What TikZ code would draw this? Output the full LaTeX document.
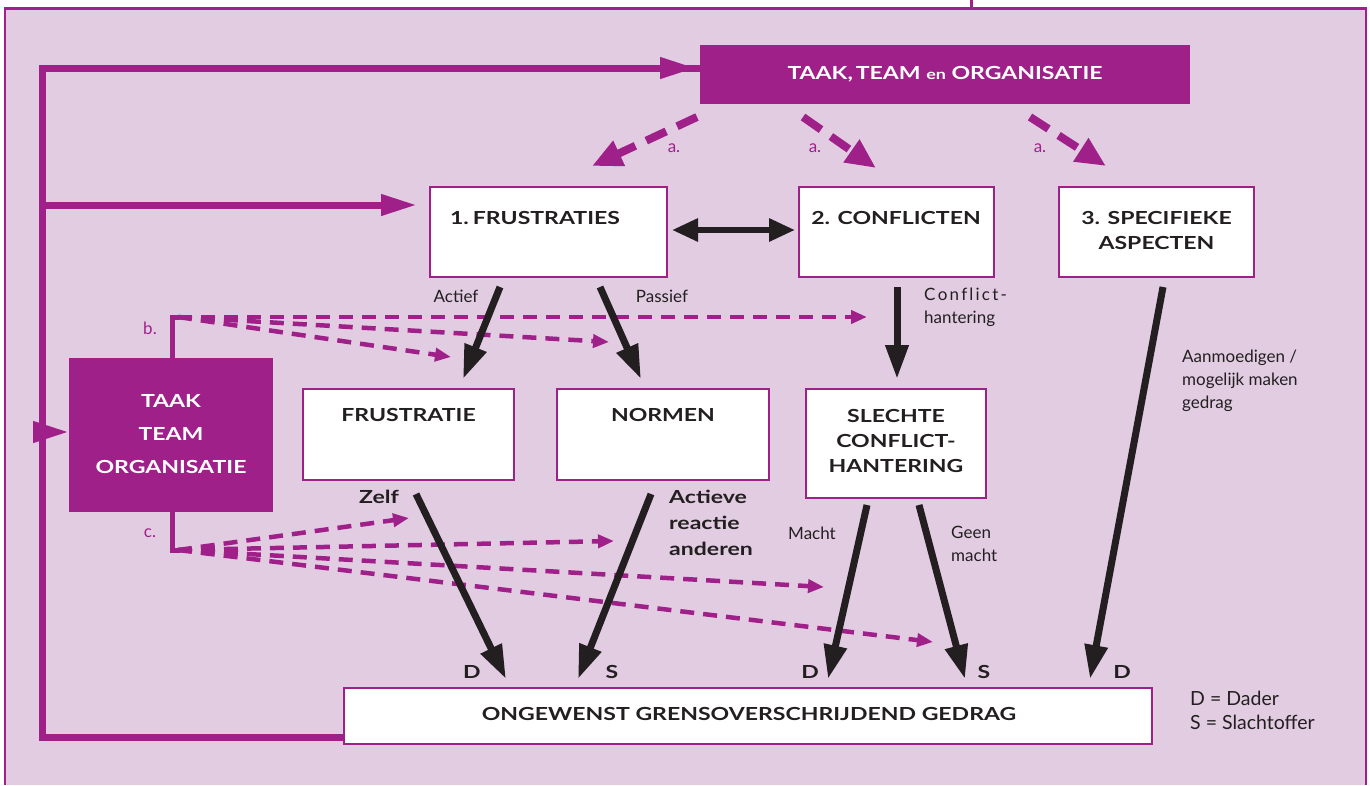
\documentclass[tikz,border=0pt]{standalone}
\usepackage{fontspec}
\setmainfont{Lato}
\newfontfamily\tfont[FakeStretch=1.28]{Lato}
\usetikzlibrary{arrows.meta,calc}
\definecolor{purp}{RGB}{160,32,138}
\definecolor{bgpink}{RGB}{226,204,226}
\definecolor{ink}{RGB}{35,31,32}
\begin{document}
\begin{tikzpicture}[x=1pt,y=-1pt,
  wbox/.style={draw=purp, line width=1.2pt, fill=white, inner sep=0pt, outer sep=0pt},
  pbox/.style={fill=purp, inner sep=0pt, outer sep=0pt},
  ttl/.style={font=\tfont\bfseries\fontsize{18}{25}\selectfont, text=ink, align=center, inner sep=0pt},
  wttl/.style={ttl, text=white},
  lbl/.style={font=\fontsize{17}{23}\selectfont, text=ink, align=left, inner sep=0pt},
  blbl/.style={font=\tfont\bfseries\fontsize{18}{26}\selectfont, text=ink, align=left, inner sep=0pt},
  plbl/.style={font=\fontsize{17}{20}\selectfont, text=purp, inner sep=0pt},
  blk/.style={draw=ink, line width=7pt, -{Triangle[length=34pt,width=22pt]}},
  dblk/.style={draw=ink, line width=6pt, {Triangle[length=26pt,width=22pt]}-{Triangle[length=26pt,width=22pt]}},
  fb/.style={draw=purp, line width=7pt, line join=miter},
  fba/.style={fb, -{Triangle[length=36pt,width=20pt]}},
  adash/.style={draw=purp, line width=8pt, dash pattern=on 22pt off 12pt, -{Triangle[length=30pt,width=26pt]}},
  tdash/.style={draw=purp, line width=4.5pt, dash pattern=on 14pt off 9pt, -{Triangle[length=16pt,width=13pt]}}
]
\useasboundingbox (0,0) rectangle (1370,785);
\fill[white] (0,0) rectangle (1370,785);
\fill[bgpink] (4,8) rectangle (1367,785);
\draw[purp, line width=2pt] (5,785) -- (5,8.5) -- (1366,8.5) -- (1366,785);
\draw[purp, line width=3pt] (4,8.5) -- (1367,8.5);
\draw[purp, line width=3pt] (971,0) -- (971,8);

% boxes
\node[pbox, minimum width=490pt, minimum height=59pt] (tto) at (945,74.5) {};
\node[wttl] (ttot) at (945,74) {TAAK,\,TEAM {\fontsize{14}{18}\selectfont en} ORGANISATIE};
\node[wbox, minimum width=237pt, minimum height=90pt] (fr) at (548.5,232) {};
\node[ttl] (frt) at (535,218) {1.\kern4pt FRUSTRATIES};
\node[wbox, minimum width=195pt, minimum height=90pt] (co) at (896.5,232) {};
\node[ttl] (cot) at (896,218) {2. CONFLICTEN};
\node[wbox, minimum width=195pt, minimum height=90pt] (sp) at (1156.5,232) {};
\node[ttl] (spt) at (1156.5,230.5) {3. SPECIFIEKE\\ASPECTEN};
\node[pbox, minimum width=204pt, minimum height=154pt] (lb) at (171,435) {};
\node[wttl, font=\tfont\bfseries\fontsize{18}{33}\selectfont] (lbt) at (171,434) {TAAK\\TEAM\\ORGANISATIE};
\node[wbox, minimum width=211pt, minimum height=91pt] (fs) at (408.5,434.5) {};
\node[ttl] (fst) at (408.5,415) {FRUSTRATIE};
\node[wbox, minimum width=212pt, minimum height=91pt] (no) at (663,434.5) {};
\node[ttl] (not) at (663,415) {NORMEN};
\node[wbox, minimum width=180pt, minimum height=109pt] (sl) at (896,443.5) {};
\node[ttl] (slt) at (896,440.5) {SLECHTE\\CONFLICT-\\HANTERING};
\node[wbox, minimum width=808pt, minimum height=56pt] (bot) at (748,716) {};
\node[ttl] (bott) at (749,714) {ONGEWENST GRENSOVERSCHRIJDEND GEDRAG};

% feedback loop
\coordinate (lx) at (42,737);
\draw[fb] ($(bot.south west)+(0,-7)$) -- (lx) -- (42,68) -- (tto.west |- 0,68);
\draw[fba] (42,68) -- ($(tto.west |- 0,68)+(-4,0)$);
\draw[fba] (42,205) -- ($(fr.west |- 0,205)+(-13,0)$);
\draw[fba] (42,432) -- (lb.west |- 0,432);

% a. dashed arrows
\coordinate (a1s) at (697,117); \coordinate (a1e) at (592,166);
\coordinate (a2s) at (803,117); \coordinate (a2e) at (876,168);
\coordinate (a3s) at (1030,117); \coordinate (a3e) at (1106,166);
\draw[adash] (a1s) -- (a1e);
\draw[adash] (a2s) -- (a2e);
\draw[adash] (a3s) -- (a3e);
\node[plbl] (la1) at (674,148) {a.};
\node[plbl] (la2) at (815,148) {a.};
\node[plbl] (la3) at (1040,148) {a.};

% b. and c.
\coordinate (bc) at (172,317);
\coordinate (cc) at (172,550);
\draw[purp, line width=5pt] (lb.north -| bc) -- (bc) -- ++(8,0);
\draw[purp, line width=5pt] (lb.south -| cc) -- (cc) -- ++(8,0);
\node[plbl] (lbb) at (150,328) {b.};
\node[plbl] (lcc) at (150,533) {c.};
\coordinate (b1) at (867,317); \coordinate (b2) at (609,342); \coordinate (b3) at (451,357);
\draw[tdash] ($(bc)+(6,0)$) -- (b1);
\draw[tdash] ($(bc)+(6,0)$) -- (b2);
\draw[tdash] ($(bc)+(6,0)$) -- (b3);
\coordinate (c1) at (409,518); \coordinate (c2) at (614,541); \coordinate (c3) at (824,587); \coordinate (c4) at (933,642);
\draw[tdash] ($(cc)+(6,0)$) -- (c1);
\draw[tdash] ($(cc)+(6,0)$) -- (c2);
\draw[tdash] ($(cc)+(6,0)$) -- (c3);
\draw[tdash] ($(cc)+(6,0)$) -- (c4);

% black arrows
\draw[dblk] (672,230) -- (795,230);
\draw[blk] (500,287) -- (463,379);
\draw[blk] (600,287) -- (641,379);
\draw[blk] (897,287) -- (897,379);
\draw[blk] (1163,287) -- (1090,679);
\draw[blk] (416,494) -- (506,679);
\draw[blk] (651,494) -- (578,679);
\draw[blk] (867,505) -- (828,679);
\draw[blk] (919,505) -- (965,679);

% labels
\node[lbl] (lact) at (456,296) {Actief};
\node[lbl] (lpas) at (662,296) {Passief};
\node[lbl, anchor=west] (lch) at (924,307.5) {C\kern2.2pt o\kern2.2pt n\kern2.2pt f\kern2.2pt l\kern2.2pt i\kern2.2pt c\kern2.2pt t\kern2.2pt -\\hantering};
\node[lbl, anchor=west] (lan) at (1182,381) {Aanmoedigen /\\mogelijk maken\\gedrag};
\node[blbl] (lz) at (379,497) {Zelf};
\node[blbl, anchor=west] (lar) at (669,523) {Actieve\\reactie\\anderen};
\node[lbl] (lm) at (812,533) {Macht};
\node[lbl, anchor=west] (lg) at (951,544) {Geen\\macht};
\node[blbl] (d1) at (472,672) {D};
\node[blbl] (s1) at (612,672) {S};
\node[blbl] (d2) at (810,672) {D};
\node[blbl] (s2) at (984,672) {S};
\node[blbl] (d3) at (1122,672) {D};
\node[lbl, font=\fontsize{19.5}{24}\selectfont, anchor=west] (leg) at (1190,710) {D = Dader\\S = Slachtoffer};
\end{tikzpicture}
\end{document}
